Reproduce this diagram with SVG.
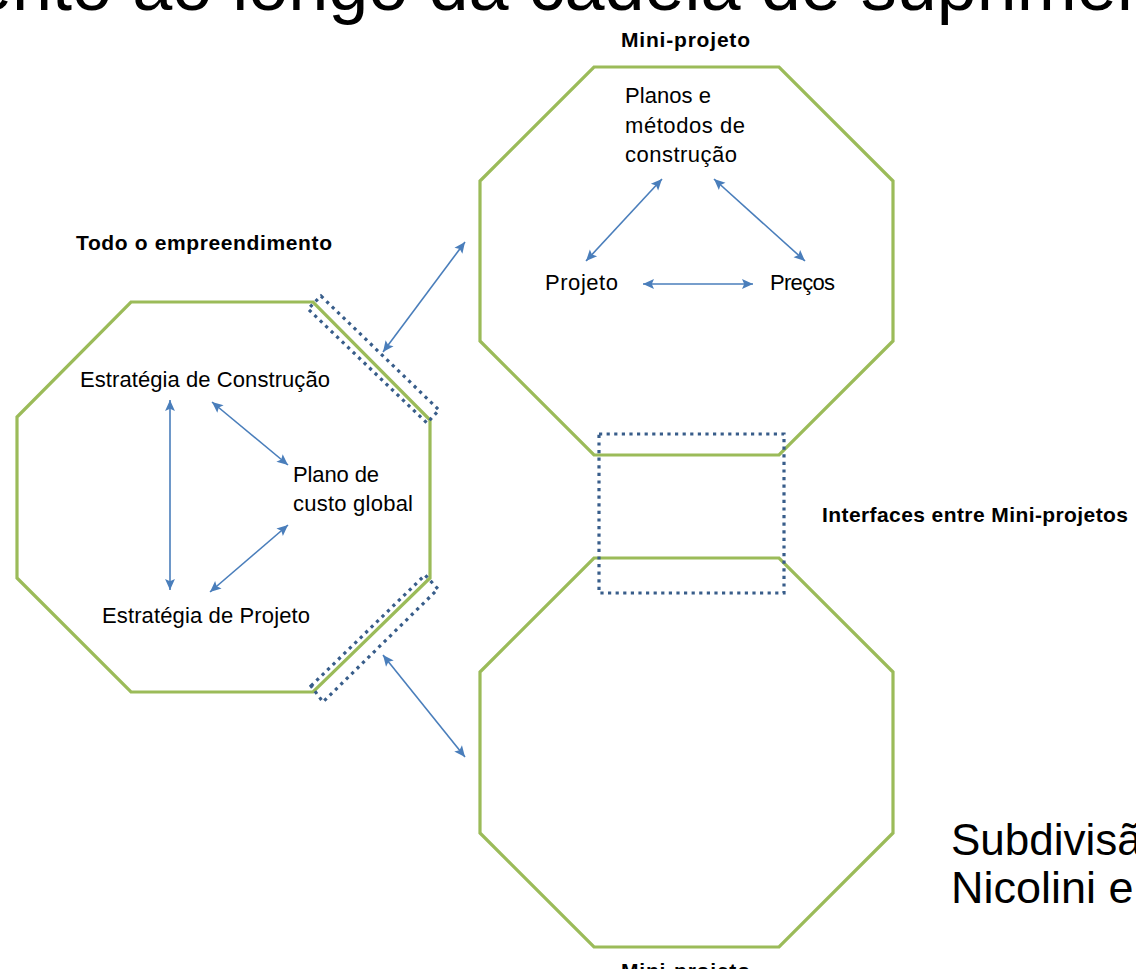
<svg xmlns="http://www.w3.org/2000/svg" width="1136" height="969" viewBox="0 0 1136 969">
<style>
.oct{fill:none;stroke:#9BBB59;stroke-width:3.2;stroke-linejoin:miter}
.dot{fill:none;stroke:#385D8A;stroke-width:3.2;stroke-dasharray:3.2 4.4}
.arr{fill:none;stroke:#4A7EBB;stroke-width:1.6;marker-start:url(#ah);marker-end:url(#ah)}
.t{font-family:"Liberation Sans",Arial,sans-serif;font-size:22px;fill:#000}
.b{font-family:"Liberation Sans",Arial,sans-serif;font-size:21px;font-weight:bold;fill:#000}
.big{font-family:"Liberation Sans",Arial,sans-serif;fill:#000}
</style>
<defs>
<marker id="ah" viewBox="0 0 10 10" refX="10" refY="5" markerUnits="userSpaceOnUse" markerWidth="13" markerHeight="11" orient="auto-start-reverse">
<path d="M0,0.5 L10,5 L0,9.5 L2,5 Z" fill="#4A7EBB"/>
</marker>
</defs>
<rect width="1136" height="969" fill="#fff"/>
<text class="big" x="-28" y="10" font-size="72">ento ao longo da cadeia de suprimen</text>
<g id="whole">
<polygon class="oct" points="131,302 313,302 430,420 430,578 313,692 131,692 17,578 17,417"/>
<text class="b" x="76" y="250" textLength="256">Todo o empreendimento</text>
<text class="t" x="80" y="387" textLength="250">Estratégia de Construção</text>
<text class="t" x="293" y="482" textLength="86">Plano de</text>
<text class="t" x="293" y="511" textLength="120">custo global</text>
<text class="t" x="102" y="623" textLength="208">Estratégia de Projeto</text>
</g>
<g id="mini-top">
<polygon class="oct" points="594,67 779,67 893,181 893,341 779,455 594,455 480,341 480,181"/>
<text class="b" x="621" y="47" textLength="129">Mini-projeto</text>
<text class="t" x="625" y="103" textLength="86">Planos e</text>
<text class="t" x="625" y="133" textLength="120">métodos de</text>
<text class="t" x="625" y="162" textLength="112">construção</text>
<text class="t" x="545" y="290" textLength="73">Projeto</text>
<text class="t" x="770" y="290" textLength="65">Preços</text>
</g>
<g id="mini-bottom">
<polygon class="oct" points="594,558 779,558 893,672 893,833 779,947 594,947 480,833 480,672"/>
<text class="b" x="621" y="978" textLength="129">Mini-projeto</text>
</g>
<g id="interfaces">
<polygon class="dot" points="321,296 439,410 427,423 308,309"/>
<polygon class="dot" points="311,686 425,575 438,589 323,702"/>
<rect class="dot" x="599" y="434" width="185" height="159"/>
<text class="b" x="822" y="522" textLength="306">Interfaces entre Mini-projetos</text>
</g>
<g id="caption">
<text class="big" x="951" y="855" font-size="44">Subdivisã</text>
<text class="big" x="951" y="903" font-size="45">Nicolini e</text>
</g>
<g id="connectors">
<line class="arr" x1="170" y1="400" x2="170" y2="590"/>
<line class="arr" x1="212" y1="402" x2="288" y2="465"/>
<line class="arr" x1="210" y1="592" x2="288" y2="525"/>
<line class="arr" x1="465" y1="242" x2="383" y2="352"/>
<line class="arr" x1="383" y1="655" x2="465" y2="757"/>
<line class="arr" x1="662" y1="179" x2="586" y2="261"/>
<line class="arr" x1="714" y1="179" x2="805" y2="261"/>
<line class="arr" x1="643" y1="284" x2="753" y2="284"/>
</g>
</svg>
